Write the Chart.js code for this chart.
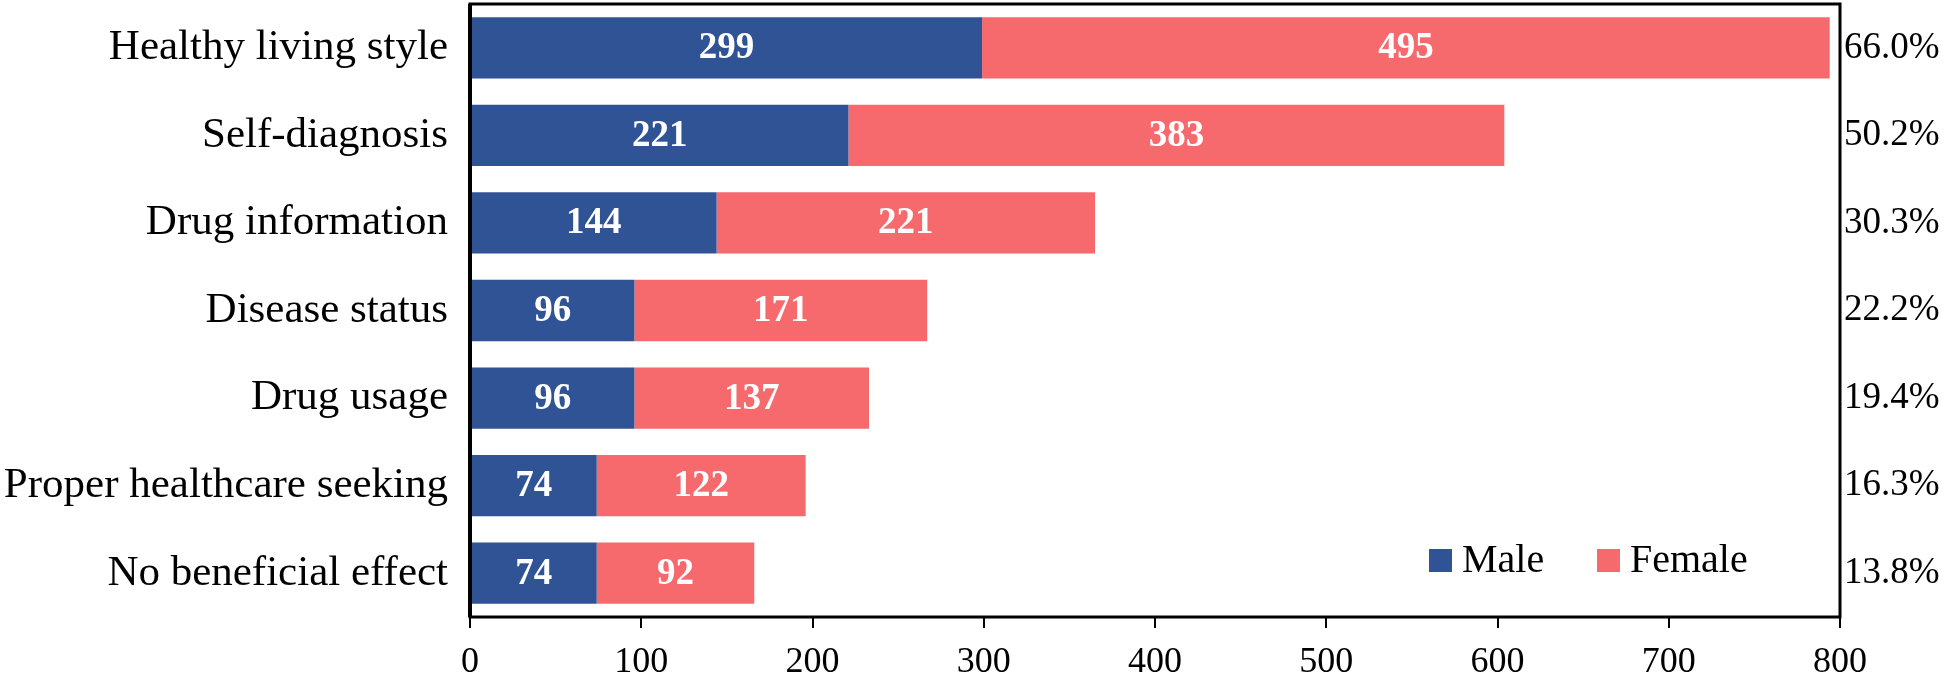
<!DOCTYPE html>
<html>
<head>
<meta charset="utf-8">
<script src="https://cdn.jsdelivr.net/npm/chart.js@4.4.1/dist/chart.umd.min.js"></script>
<style>
  html, body { margin: 0; padding: 0; background: #fff; }
  #wrap { width: 1946px; height: 673px; position: relative; }
</style>
</head>
<body>
<div id="wrap"><canvas id="chart"></canvas></div>
<script>
// data
const categories = ['Healthy living style', 'Self-diagnosis', 'Drug information', 'Disease status',
                    'Drug usage', 'Proper healthcare seeking', 'No beneficial effect'];
const maleValues = [299, 221, 144, 96, 96, 74, 74];
const femaleValues = [495, 383, 221, 171, 137, 122, 92];
const percentLabels = ['66.0%', '50.2%', '30.3%', '22.2%', '19.4%', '16.3%', '13.8%'];
const xTicks = [0, 100, 200, 300, 400, 500, 600, 700, 800];

const SERIF = "'Liberation Serif', 'Times New Roman', serif";
const BLUE = '#2F5395';
const PINK = '#F66A6E';

// frame round the plot + value labels in bars + legend inside plot
const decorPlugin = {
    id: 'decor',
    afterDatasetsDraw(chart) {
        const ctx = chart.ctx;
        ctx.save();
        ctx.fillStyle = '#fff';
        ctx.font = 'bold 37px ' + SERIF;
        ctx.textAlign = 'center';
        ctx.textBaseline = 'middle';
        chart.data.datasets.forEach((ds, i) => {
            chart.getDatasetMeta(i).data.forEach((bar, j) => {
                const cx = (bar.x + bar.base) / 2;
                ctx.fillText(String(ds.data[j]), cx, bar.y + 1);
            });
        });
        ctx.restore();
    },
    afterDraw(chart) {
        const ctx = chart.ctx;
        const a = chart.chartArea;
        ctx.save();
        ctx.strokeStyle = '#000';
        ctx.lineWidth = 3;
        ctx.strokeRect(a.left, a.top, a.right - a.left, a.bottom - a.top);
        ctx.lineWidth = 4;
        ctx.beginPath();
        ctx.moveTo(a.left, a.top);
        ctx.lineTo(a.left, a.bottom);
        ctx.stroke();

        // legend
        ctx.font = '40px ' + SERIF;
        ctx.textBaseline = 'middle';
        ctx.textAlign = 'left';
        let x = a.right - 411;
        const y = a.bottom - 57;
        chart.data.datasets.forEach(ds => {
            ctx.fillStyle = ds.backgroundColor;
            ctx.fillRect(x, y - 11, 23, 23);
            ctx.fillStyle = '#000';
            ctx.fillText(ds.label, x + 33, y + 1);
            x += 168;
        });
        ctx.restore();
    }
};

function noPad(scale) {
    scale.paddingTop = 0;
    scale.paddingBottom = 0;
    scale.paddingLeft = 0;
    scale.paddingRight = 0;
}

new Chart(document.getElementById('chart'), {
    type: 'bar',
    data: {
        labels: categories,
        datasets: [
            { label: 'Male', data: maleValues, backgroundColor: BLUE, yAxisID: 'y' },
            { label: 'Female', data: femaleValues, backgroundColor: PINK, yAxisID: 'y' }
        ]
    },
    options: {
        indexAxis: 'y',
        responsive: true,
        maintainAspectRatio: false,
        animation: false,
        layout: { padding: { top: 4, left: 0, right: 0, bottom: 0 } },
        datasets: { bar: { barPercentage: 0.7, categoryPercentage: 1.0 } },
        plugins: {
            legend: { display: false },
            tooltip: { enabled: false }
        },
        scales: {
            x: {
                stacked: true,
                min: 0,
                max: 800,
                afterBuildTicks(scale) { scale.ticks = xTicks.map(v => ({ value: v })); },
                ticks: { color: '#000', font: { family: SERIF, size: 36 }, padding: 13, maxRotation: 0 },
                grid: { drawOnChartArea: false, drawTicks: true, tickLength: 11, tickColor: '#000', lineWidth: 2 },
                border: { display: false },
                afterFit(scale) { scale.height = 56; noPad(scale); }
            },
            y: {
                stacked: true,
                position: 'left',
                ticks: { color: '#000', font: { family: SERIF, size: 43 }, padding: 22 },
                grid: { display: false, drawTicks: false },
                border: { display: false },
                afterFit(scale) { scale.width = 470; noPad(scale); }
            },
            yPct: {
                type: 'category',
                labels: percentLabels,
                position: 'right',
                offset: true,
                ticks: { color: '#000', font: { family: SERIF, size: 37 }, padding: 4 },
                grid: { display: false, drawTicks: false },
                border: { display: false },
                afterFit(scale) { scale.width = 106; noPad(scale); }
            }
        }
    },
    plugins: [decorPlugin]
});
</script>
</body>
</html>
